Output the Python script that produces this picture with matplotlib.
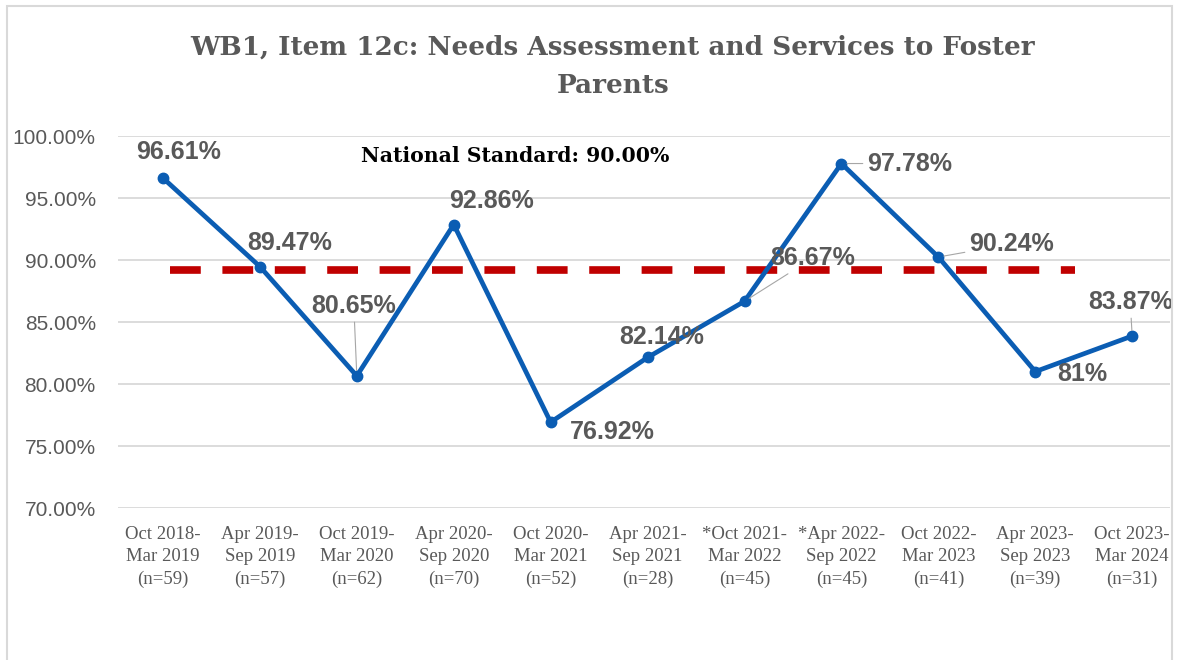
import matplotlib
matplotlib.use("Agg")
import matplotlib.pyplot as plt
from matplotlib.patches import Rectangle
from matplotlib.ticker import FuncFormatter

# data
periods = ["Oct 2018-\nMar 2019\n(n=59)", "Apr 2019-\nSep 2019\n(n=57)",
           "Oct 2019-\nMar 2020\n(n=62)", "Apr 2020-\nSep 2020\n(n=70)",
           "Oct 2020-\nMar 2021\n(n=52)", "Apr 2021-\nSep 2021\n(n=28)",
           "*Oct 2021-\nMar 2022\n(n=45)", "*Apr 2022-\nSep 2022\n(n=45)",
           "Oct 2022-\nMar 2023\n(n=41)", "Apr 2023-\nSep 2023\n(n=39)",
           "Oct 2023-\nMar 2024\n(n=31)"]
rates = [96.61, 89.47, 80.65, 92.86, 76.92, 82.14, 86.67, 97.78, 90.24, 81.0, 83.87]
rate_labels = ["96.61%", "89.47%", "80.65%", "92.86%", "76.92%", "82.14%",
               "86.67%", "97.78%", "90.24%", "81%", "83.87%"]
standard_text = "National Standard: 90.00%"
standard_level = 89.2           # where the dashed line sits in the picture
standard_span = [0.07, 9.41]    # category positions where it starts / ends
yticks = [70, 75, 80, 85, 90, 95, 100]

# label offsets in pixels (dx, dy) and whether Excel drew a leader line
label_offsets = [(16, 26), (30, 24), (-3, 70), (38, 24), (62, -10), (14, 20),
                 (68, 43), (68, 0), (73, 13), (47, -2), (-2, 34)]
leaders = [False, False, True, False, False, False, True, True, True, False, True]

W, H = 1178, 660
GRAY = "#595959"
BLUE = "#0B5DB3"
RED = "#C00000"

fig = plt.figure(figsize=(W / 100, H / 100), dpi=100)
fig.patches.append(Rectangle((7 / W, -0.02), (1172 - 7) / W, 1 - 6 / H + 0.02,
                             transform=fig.transFigure, fill=False,
                             edgecolor="#D9D9D9", lw=1.5))

ax = fig.add_axes([118 / W, 1 - 508 / H, (1170 - 118) / W, (508 - 136) / H])
x = list(range(len(periods)))

ax.plot(standard_span, [standard_level] * 2, color=RED, lw=5.5,
        linestyle=(0, (4.03, 2.83)), solid_capstyle="butt", zorder=2)
ax.plot(x, rates, color=BLUE, lw=3.4, marker="o", ms=7.5, zorder=3)

for xi, yi, lab, (dx, dy), lead in zip(x, rates, rate_labels, label_offsets, leaders):
    ax.annotate(lab, (xi, yi), xytext=(dx, dy), textcoords="offset pixels",
                ha="center", va="center", fontsize=18, fontweight="bold",
                family="Liberation Sans", color=GRAY, zorder=4,
                arrowprops=dict(arrowstyle="-", color="#A6A6A6", lw=0.8,
                                shrinkA=1, shrinkB=4) if lead else None)

ax.set_xlim(-0.464, 10.39)
ax.set_ylim(70, 100)
ax.set_yticks(yticks)
ax.yaxis.set_major_formatter(FuncFormatter(lambda v, _: f"{v:.2f}%"))
ax.set_xticks(x)
ax.set_xticklabels(periods, family="Liberation Serif", fontsize=13.5, color=GRAY,
                   linespacing=1.4)
for t in ax.get_yticklabels():
    t.set_family("Liberation Sans")
    t.set_fontsize(15)
    t.set_color(GRAY)
ax.tick_params(axis="y", length=0, pad=16)
ax.tick_params(axis="x", length=0, pad=13)
ax.grid(axis="y", color="#D9D9D9", lw=1.3)
ax.set_axisbelow(True)
for s in ax.spines.values():
    s.set_visible(False)

fig.text(613 / W, 1 - 55 / H, "WB1, Item 12c: Needs Assessment and Services to Foster",
         ha="center", va="baseline", family="DejaVu Serif", fontweight="bold",
         fontsize=18.9, color=GRAY)
fig.text(613 / W, 1 - 93 / H, "Parents", ha="center", va="baseline",
         family="DejaVu Serif", fontweight="bold", fontsize=18.9, color=GRAY)
fig.text(361 / W, 1 - 162 / H, standard_text, ha="left", va="baseline",
         family="DejaVu Serif", fontweight="bold", fontsize=14.7, color="black")

fig.savefig("out.png", dpi=100)
